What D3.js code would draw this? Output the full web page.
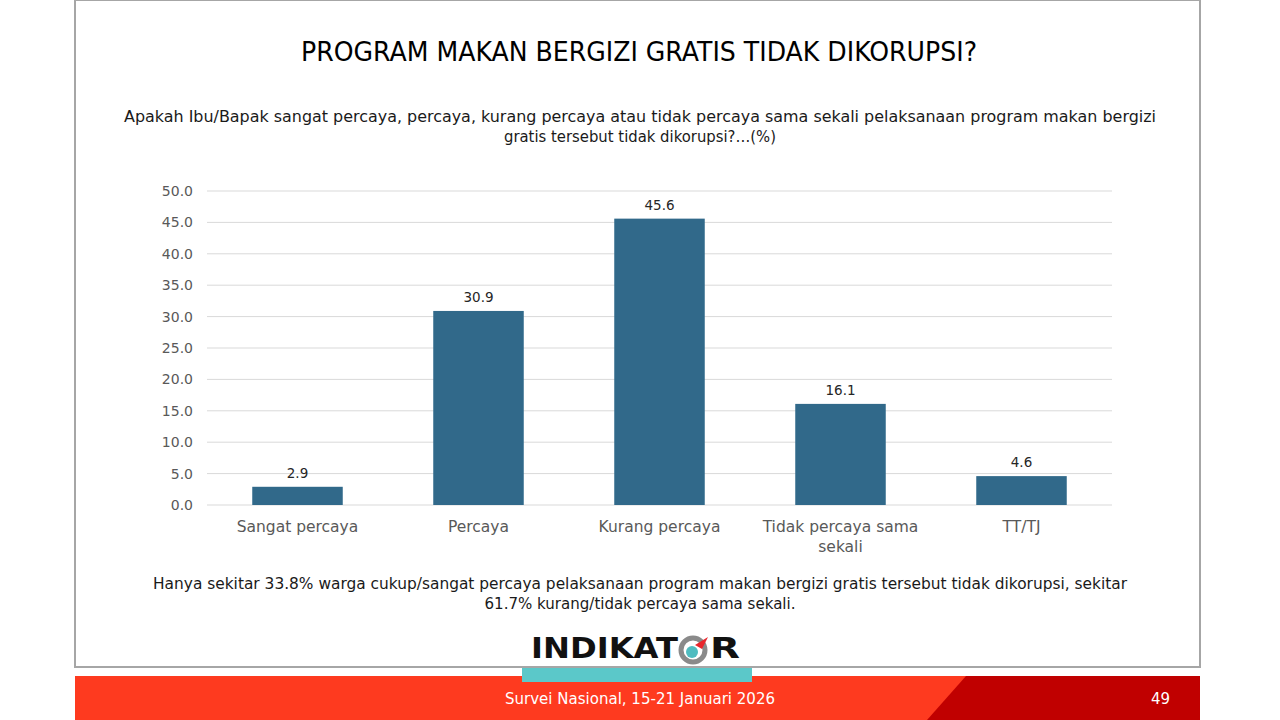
<!DOCTYPE html>
<html><head><meta charset="utf-8">
<script src="https://cdn.jsdelivr.net/npm/d3@7"></script>
<style>body{margin:0;background:#fff}svg{display:block}text{font-family:"DejaVu Sans",sans-serif}</style>
</head><body><svg id="c" width="1280" height="720"></svg>
<script>
const categories = ["Sangat percaya","Percaya","Kurang percaya","Tidak percaya sama sekali","TT/TJ"];
const values = [2.9, 30.9, 45.6, 16.1, 4.6];
const tickValues = [0,5,10,15,20,25,30,35,40,45,50];
const titleText = "PROGRAM MAKAN BERGIZI GRATIS TIDAK DIKORUPSI?";
const subtitleLines = ["Apakah Ibu/Bapak sangat percaya, percaya, kurang percaya atau tidak percaya sama sekali pelaksanaan program makan bergizi","gratis tersebut tidak dikorupsi?…(%)"];
const noteLines = ["Hanya sekitar 33.8% warga cukup/sangat percaya pelaksanaan program makan bergizi gratis tersebut tidak dikorupsi, sekitar","61.7% kurang/tidak percaya sama sekali."];
const footerText = "Survei Nasional, 15-21 Januari 2026";
const pageNum = "49";

const svg = d3.select("#c");
// frame
svg.append("rect").attr("x",75).attr("y",0).attr("width",1125).attr("height",667)
  .attr("fill","#fff").attr("stroke","#a6a6a6").attr("stroke-width",2);
// footer
svg.append("rect").attr("x",75).attr("y",676).attr("width",1125).attr("height",44).attr("fill","#fe3a1f");
svg.append("path").attr("d","M966,676 L1200,676 L1200,720 L927,720 Z").attr("fill","#c00000");
svg.append("text").attr("x",505).attr("y",704).attr("fill","#fff")
  .attr("font-size",15).attr("font-family","Lato").attr("textLength",270).attr("lengthAdjust","spacingAndGlyphs").text(footerText);
svg.append("text").attr("x",1170).attr("y",704).attr("text-anchor","end").attr("fill","#fff")
  .attr("font-size",15).attr("font-family","Lato").text(pageNum);
// logo
svg.append("rect").attr("x",522).attr("y",668).attr("width",230).attr("height",14).attr("fill","#5bc8c9");
const logo = svg.append("g");
logo.append("text").attr("x",531).attr("y",658).attr("font-size",29).attr("font-weight",700)
  .attr("fill","#111").attr("textLength",147).attr("lengthAdjust","spacingAndGlyphs").text("INDIKAT");
logo.append("circle").attr("cx",693).attr("cy",650).attr("r",12).attr("fill","none").attr("stroke","#8a8a8a").attr("stroke-width",5);
logo.append("circle").attr("cx",692).attr("cy",652).attr("r",6).attr("fill","#4fbcc0");
logo.append("path").attr("d","M695,645 L708,637 L702,649 Z").attr("fill","#e8262c");
logo.append("text").attr("x",710).attr("y",658).attr("font-size",29).attr("font-weight",700)
  .attr("fill","#111").attr("textLength",30).attr("lengthAdjust","spacingAndGlyphs").text("R");

// title
svg.append("text").attr("x",301).attr("y",61).attr("font-size",26).attr("font-family","Lato")
  .attr("fill","#000").attr("textLength",676).attr("lengthAdjust","spacingAndGlyphs").text(titleText);
const subW=[1032,272], noteW=[974,311];
svg.selectAll(".sub").data(subtitleLines).join("text").attr("x",(d,i)=>640-subW[i]/2).attr("y",(d,i)=>122+i*20)
  .attr("font-size",15).attr("fill","#1a1a1a").attr("textLength",(d,i)=>subW[i]).attr("lengthAdjust","spacingAndGlyphs").text(d=>d);
svg.selectAll(".note").data(noteLines).join("text").attr("x",(d,i)=>640-noteW[i]/2).attr("y",(d,i)=>589+i*20)
  .attr("font-size",15).attr("fill","#1a1a1a").attr("textLength",(d,i)=>noteW[i]).attr("lengthAdjust","spacingAndGlyphs").text(d=>d);

// chart
const x0=207, x1=1112, yTop=191, yBot=505;
const x = d3.scaleBand().domain(categories).range([x0,x1]).paddingInner(0.5).paddingOuter(0.25);
const y = d3.scaleLinear().domain([0,50]).range([yBot,yTop]);
const g = svg.append("g");
g.selectAll(".grid").data(tickValues).join("line").attr("x1",x0).attr("x2",x1)
  .attr("y1",d=>y(d)).attr("y2",d=>y(d)).attr("stroke","#d9d9d9").attr("stroke-width",1);
const ya = g.append("g").attr("transform",`translate(${x0},0)`)
  .call(d3.axisLeft(y).tickValues(tickValues).tickFormat(d3.format(".1f")).tickSize(0).tickPadding(14));
ya.select(".domain").remove();
ya.selectAll("text").attr("font-size",14).attr("fill","#595959").attr("font-family","DejaVu Sans");
g.selectAll(".bar").data(values).join("rect").attr("x",(d,i)=>x(categories[i])).attr("width",x.bandwidth())
  .attr("y",d=>y(d)).attr("height",d=>yBot-y(d)).attr("fill","#31698a");
g.selectAll(".val").data(values).join("text").attr("x",(d,i)=>x(categories[i])+x.bandwidth()/2)
  .attr("y",d=>y(d)-9).attr("text-anchor","middle").attr("font-size",13.5).attr("fill","#262626").text(d=>d.toFixed(1));
// category labels with wrapping
const catLines = categories.map(c => c==="Tidak percaya sama sekali" ? ["Tidak percaya sama","sekali"] : [c]);
categories.forEach((c,i)=>{
  const t = g.append("text").attr("text-anchor","middle").attr("font-size",15.5).attr("fill","#595959");
  catLines[i].forEach((l,j)=>t.append("tspan").attr("x",x(c)+x.bandwidth()/2).attr("y",532+j*20).text(l));
});
</script></body></html>
